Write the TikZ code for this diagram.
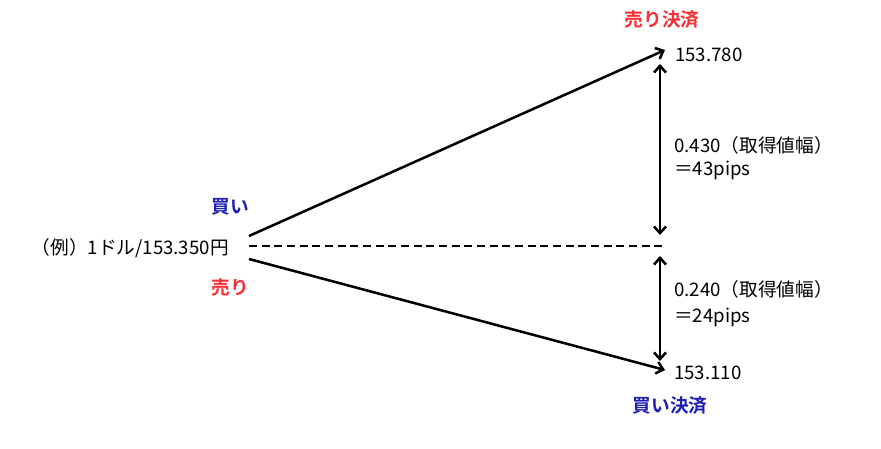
\documentclass[tikz,border=0pt]{standalone}
\usepackage{fontspec}
\setmainfont{Noto Sans CJK JP}[BoldFont={Noto Sans CJK JP Bold}]
\usepackage{tikz}
\usetikzlibrary{arrows.meta}
\definecolor{sellred}{RGB}{250,45,50}
\definecolor{buyblue}{RGB}{30,30,180}

\begin{document}
\begin{tikzpicture}[x=0.75pt, y=-0.75pt,
    every node/.style={font=\fontsize{14pt}{17pt}\selectfont, inner sep=0pt},
    move/.style={line width=1.9pt, -{Straight Barb[length=5pt, width=9pt, line width=1.9pt]}},
    span/.style={line width=1.9pt, {Straight Barb[length=5pt, width=9pt, line width=1.9pt]}-{Straight Barb[length=5pt, width=9pt, line width=1.9pt]}},
    tag/.style={font=\fontsize{14pt}{17pt}\selectfont\bfseries}]
  \useasboundingbox (0,0) rectangle (881,449);
  % entry price
  \node[anchor=east] (entry) at (229,248) {（例）1ドル/153.350円};
  \coordinate (up0) at (249,236);
  \coordinate (dn0) at (249,259);
  \coordinate (mid0) at (249,246);
  \coordinate (mid1) at (664,246);
  \draw[line width=1.9pt, dash pattern=on 6pt off 3.5pt] (mid0) -- (mid1);
  \node[tag, buyblue] (buy) at (230,207) {買い};
  \node[tag, sellred] (sell) at (230,287) {売り};
  % exit prices
  \coordinate (up1) at (665,50);
  \coordinate (dn1) at (665,370);
  \draw[move] (up0) -- (up1);
  \draw[move] (dn0) -- (dn1);
  \node[anchor=west] (high) at (675,55) {153.780};
  \node[anchor=west] (low) at (674,373) {153.110};
  \node[tag, sellred] (sellexit) at (662,20) {売り決済};
  \node[tag, buyblue] (buyexit) at (670,406) {買い決済};
  % profit widths
  \coordinate (gaptop0) at (660,64);
  \coordinate (gaptop1) at (660,235);
  \coordinate (gapbot0) at (660,256);
  \coordinate (gapbot1) at (660,361);
  \draw[span] (gaptop0) -- (gaptop1);
  \draw[span] (gapbot0) -- (gapbot1);
  \node[anchor=west] (wide) at (674,145) {0.430（取得値幅）};
  \node[anchor=west] (widepips) at (674,170) {＝43pips};
  \node[anchor=west] (narrow) at (674,289) {0.240（取得値幅）};
  \node[anchor=west] (narrowpips) at (674,317) {＝24pips};
\end{tikzpicture}
\end{document}
